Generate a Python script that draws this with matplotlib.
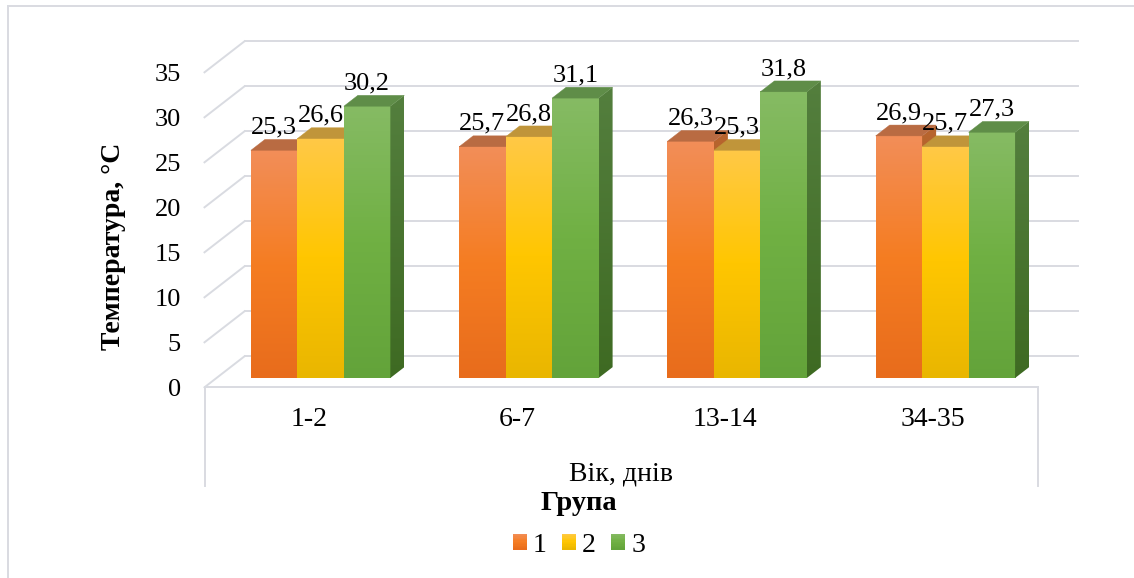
import numpy as np
import matplotlib
matplotlib.use("Agg")
import matplotlib.pyplot as plt
from matplotlib.lines import Line2D
from matplotlib.patches import Patch, Rectangle, Polygon
from matplotlib.colors import to_rgb

# data
categories = ['1-2', '6-7', '13-14', '34-35']
groups = ['1', '2', '3']
group1 = [25.3, 25.7, 26.3, 26.9]
group2 = [26.6, 26.8, 25.3, 25.7]
group3 = [30.2, 31.1, 31.8, 27.3]
yticks = [0, 5, 10, 15, 20, 25, 30, 35]

plt.rcParams['font.family'] = 'serif'
plt.rcParams['font.serif'] = ['Liberation Serif', 'DejaVu Serif']

# colours: front (top, middle, bottom), side (top, bottom), top face
front_cols = [('#F28E59', '#F57D22', '#E86C1C'),
              ('#FFC947', '#FFC600', '#E9B600'),
              ('#86BB64', '#70B043', '#63A33A')]
side_cols = [('#B8652F', '#A35518'),
             ('#C89A14', '#B58A00'),
             ('#547F3E', '#3E6A22')]
top_cols = ['#B96B42', '#C0953A', '#5F8D48']
grid_col = '#D9DBE1'

W, H = 1134, 578
fig = plt.figure(figsize=(W / 100, H / 100), dpi=100)
# axes = front plane of the 3d box
ax_l, ax_b, ax_w, ax_h = 204.5, 190.7, 833, 315
ax = fig.add_axes([ax_l / W, ax_b / H, ax_w / W, ax_h / H])
ppx = ax_w / 4.0
ppy = ax_h / 35.0


def off(px, py):
    # pixel offset (image coords, y down) -> data offset
    return px / ppx, -py / ppy


depth = (40, -31)


def dep(d):
    return off(depth[0] * d, depth[1] * d)


def mix(c1, c2, t):
    a = np.array(to_rgb(c1))
    b = np.array(to_rgb(c2))
    return a + (b - a) * t


def grad3(stops, t):
    # t = 0 bottom, 1 top
    top, mid, bot = stops
    if t < 0.5:
        return mix(bot, mid, t / 0.5)
    return mix(mid, top, (t - 0.5) / 0.5)


def grad_img(fn, n=128):
    col = np.array([fn((k + 0.5) / n) for k in range(n)])
    return np.repeat(col[:, None, :], 2, axis=1)


# back wall and left wall gridlines
bx, by = dep(1.0)
for v in yticks:
    ax.plot([-0.5 + bx, 3.5 + bx], [v + by, v + by], color=grid_col, lw=1.4,
            clip_on=False, zorder=1)
    ax.plot([-0.5, -0.5 + bx], [v, v + by], color=grid_col, lw=1.4,
            clip_on=False, zorder=1)

# box under the floor
_, drop = off(0, 99)
for xe in [-0.5, 3.5]:
    ax.plot([xe, xe], [0, drop], color=grid_col, lw=1.4, clip_on=False, zorder=1)

# bars
bw = 0.2232
px0, py0 = dep(0.3)
px1, py1 = dep(0.65)
dx, dy = px1 - px0, py1 - py0
series = [group1, group2, group3]
zo = 3.0
for i in range(len(categories)):
    for j, vals in enumerate(series):
        h = vals[i]
        xl = i + (j - 1.5) * bw + px0
        xr = xl + bw
        yb = py0
        yt = yb + h
        front = grad_img(lambda t: grad3(front_cols[j], t))
        ax.imshow(front, extent=[xl, xr, yb, yt], origin='lower', aspect='auto',
                  interpolation='bilinear', zorder=zo, clip_on=False)
        side = grad_img(lambda t: mix(side_cols[j][1], side_cols[j][0], t))
        im = ax.imshow(side, extent=[xr, xr + dx, yb, yt + dy], origin='lower',
                       aspect='auto', interpolation='bilinear', zorder=zo + 0.01)
        im.set_clip_path(Polygon([(xr, yb), (xr + dx, yb + dy), (xr + dx, yt + dy),
                                  (xr, yt)], transform=ax.transData))
        ax.add_patch(Polygon([(xl, yt), (xr, yt), (xr + dx, yt + dy), (xl + dx, yt + dy)],
                             facecolor=top_cols[j], edgecolor=top_cols[j], lw=0.3,
                             clip_on=False, zorder=zo + 0.02))
        zo += 0.1
        ax.annotate(f'{h:.1f}'.replace('.', ','), xy=((xl + xr) / 2, yt),
                    xytext=(0, 8.5), textcoords='offset points', ha='center',
                    va='bottom', fontsize=19, zorder=10, annotation_clip=False)

ax.set_xlim(-0.5, 3.5)
ax.set_ylim(0, 35)
ax.set_xticks(range(len(categories)))
ax.set_xticklabels(categories)
ax.set_yticks(yticks)
ax.tick_params(axis='x', length=0, pad=14, labelsize=20)
ax.tick_params(axis='y', length=0, pad=17, labelsize=19)
for s in ['top', 'right', 'left']:
    ax.spines[s].set_visible(False)
ax.spines['bottom'].set_color(grid_col)
ax.spines['bottom'].set_linewidth(1.4)
ax.patch.set_visible(False)

ax.set_ylabel('Температура, °С', fontsize=20, fontweight='bold')
ax.yaxis.set_label_coords((126 - ax_l) / ax_w, (H - ax_b - 246) / ax_h)
ax.set_xlabel('Вік, днів', fontsize=20)
ax.xaxis.set_label_coords(0.5, (H - ax_b - 461) / ax_h)

fig.text(579 / W, 1 - 504 / H, 'Група', fontsize=20.5, fontweight='bold',
         ha='center', va='center')


class GradHandler:
    def __init__(self, stops):
        self.stops = stops

    def legend_artist(self, legend, orig_handle, fontsize, handlebox):
        x0, y0 = handlebox.xdescent, handlebox.ydescent
        w, h = handlebox.width, handlebox.height
        n = 12
        r = None
        for k in range(n):
            c = grad3(self.stops, (k + 0.5) / n)
            r = Rectangle((-x0, -y0 + h * k / n), w, h / n * 1.05, facecolor=c,
                          edgecolor='none', transform=handlebox.get_transform())
            handlebox.add_artist(r)
        return r


handles = [Patch(color=front_cols[j][1]) for j in range(3)]
fig.legend(handles, groups, ncol=3, loc='center',
           bbox_to_anchor=(579 / W, 1 - 545 / H), frameon=False, fontsize=20,
           handlelength=0.5, handleheight=0.5, handletextpad=0.22,
           columnspacing=0.55,
           handler_map={handles[j]: GradHandler(front_cols[j]) for j in range(3)})

# outer frame
fig.add_artist(Line2D([8 / W, 8 / W], [0, 1 - 6 / H], color=grid_col, lw=1.4))
fig.add_artist(Line2D([8 / W, 1], [1 - 6 / H, 1 - 6 / H], color=grid_col, lw=1.4))

fig.savefig('out.png', dpi=100)
